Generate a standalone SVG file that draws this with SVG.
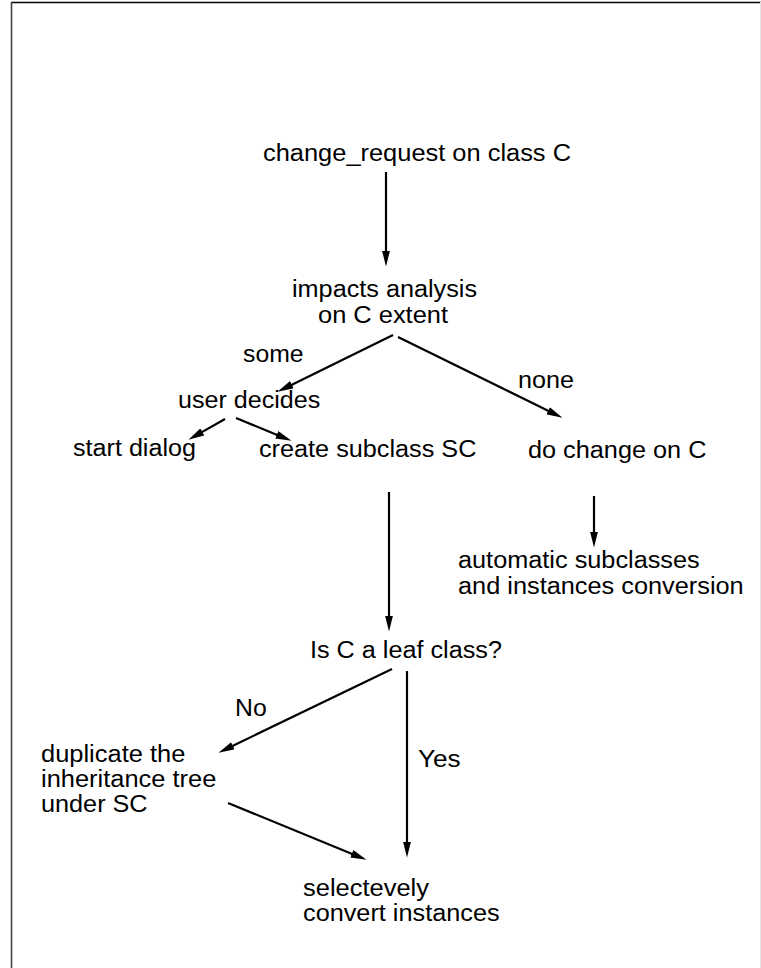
<svg xmlns="http://www.w3.org/2000/svg" width="761" height="968" viewBox="0 0 761 968">
  <style>
    text { font-family: "Liberation Sans", Arial, Helvetica, sans-serif; font-size: 23px; fill: #000; }
    .edge { stroke: #000; stroke-width: 2.2; fill: none; marker-end: url(#head); }
  </style>
  <defs>
    <marker id="head" markerUnits="userSpaceOnUse" markerWidth="16" markerHeight="8" viewBox="0 0 16 8" refX="0.5" refY="4" orient="auto">
      <path d="M0,0 L16,4 L0,8 z" fill="#000"/>
    </marker>
  </defs>

  <rect width="761" height="968" fill="#fff"/>
  <!-- frame -->
  <line x1="11" y1="2.5" x2="761" y2="2.5" stroke="#000" stroke-width="1.4"/>
  <line x1="11.5" y1="2" x2="11.5" y2="968" stroke="#444" stroke-width="1.6"/>
  <line x1="760.5" y1="2" x2="760.5" y2="968" stroke="#e4e4e4" stroke-width="1"/>

  <g id="connectors">
    <line class="edge" x1="386" y1="172" x2="386" y2="251"/>
    <line class="edge" x1="393" y1="335" x2="291.4" y2="384.9"/>
    <line class="edge" x1="398" y1="337" x2="548.6" y2="411"/>
    <line class="edge" x1="225" y1="419" x2="201.9" y2="432.1"/>
    <line class="edge" x1="236" y1="418" x2="277.2" y2="434.9"/>
    <line class="edge" x1="594" y1="496" x2="594" y2="532"/>
    <line class="edge" x1="389" y1="492" x2="389" y2="616"/>
    <line class="edge" x1="392" y1="669" x2="232.4" y2="746"/>
    <line class="edge" x1="407" y1="671" x2="407" y2="842"/>
    <line class="edge" x1="228" y1="803" x2="352.2" y2="853.9"/>
  </g>

  <g id="labels">
    <text x="243" y="362" textLength="60.6" lengthAdjust="spacingAndGlyphs">some</text>
    <text x="518" y="388" textLength="56" lengthAdjust="spacingAndGlyphs">none</text>
    <text x="235" y="716" textLength="31.7" lengthAdjust="spacingAndGlyphs">No</text>
    <text x="418" y="767" textLength="42.7" lengthAdjust="spacingAndGlyphs">Yes</text>
  </g>

  <g id="change-request">
    <text x="263" y="161" textLength="308" lengthAdjust="spacingAndGlyphs">change_request on class C</text>
  </g>
  <g id="impacts-analysis">
    <text x="292" y="297" textLength="185" lengthAdjust="spacingAndGlyphs">impacts analysis</text>
    <text x="318" y="323" textLength="130" lengthAdjust="spacingAndGlyphs">on C extent</text>
  </g>
  <g id="user-decides">
    <text x="178" y="408" textLength="142.3" lengthAdjust="spacingAndGlyphs">user decides</text>
  </g>
  <g id="start-dialog">
    <text x="73" y="456" textLength="123" lengthAdjust="spacingAndGlyphs">start dialog</text>
  </g>
  <g id="create-subclass">
    <text x="259" y="457" textLength="217.4" lengthAdjust="spacingAndGlyphs">create subclass SC</text>
  </g>
  <g id="do-change">
    <text x="528" y="458" textLength="178.4" lengthAdjust="spacingAndGlyphs">do change on C</text>
  </g>
  <g id="automatic-conversion">
    <text x="458" y="568" textLength="241.7" lengthAdjust="spacingAndGlyphs">automatic subclasses</text>
    <text x="458" y="594" textLength="285.7" lengthAdjust="spacingAndGlyphs">and instances conversion</text>
  </g>
  <g id="leaf-test">
    <text x="310" y="658" textLength="192" lengthAdjust="spacingAndGlyphs">Is C a leaf class?</text>
  </g>
  <g id="duplicate-tree">
    <text x="41" y="762" textLength="144.3" lengthAdjust="spacingAndGlyphs">duplicate the</text>
    <text x="41" y="787" textLength="175.3" lengthAdjust="spacingAndGlyphs">inheritance tree</text>
    <text x="41" y="812" textLength="106.6" lengthAdjust="spacingAndGlyphs">under SC</text>
  </g>
  <g id="convert-instances">
    <text x="303" y="896" textLength="126" lengthAdjust="spacingAndGlyphs">selectevely</text>
    <text x="303" y="921" textLength="196.6" lengthAdjust="spacingAndGlyphs">convert instances</text>
  </g>
</svg>
